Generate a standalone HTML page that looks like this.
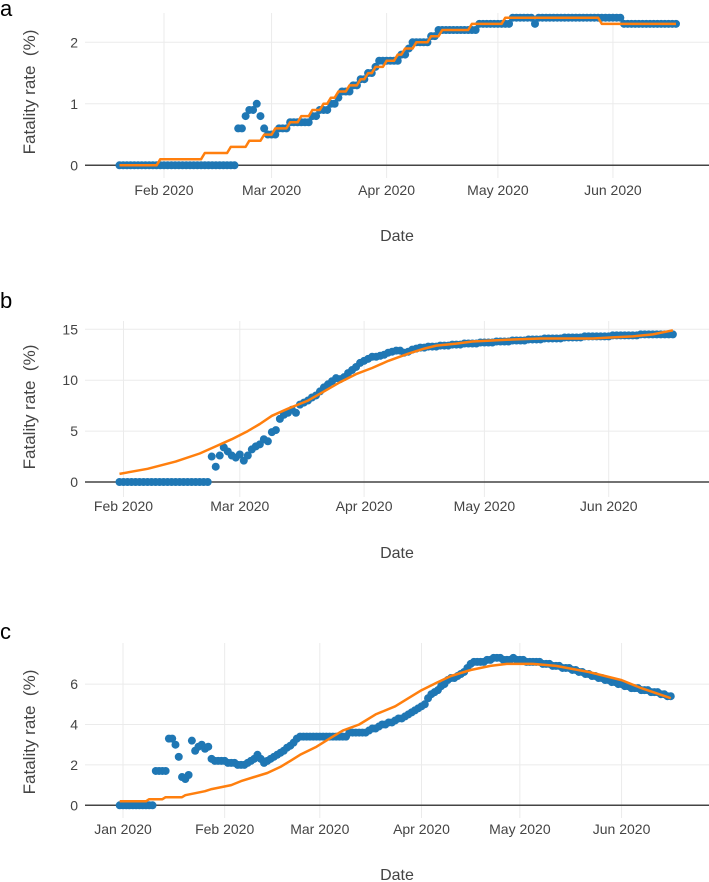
<!DOCTYPE html>
<html><head><meta charset="utf-8">
<style>
html,body{margin:0;padding:0;background:#fff;}
svg{display:block;font-family:"Liberation Sans","DejaVu Sans",sans-serif;}
</style></head>
<body>
<svg id="chart" width="709" height="882" viewBox="0 0 709 882" xmlns="http://www.w3.org/2000/svg"></svg>
<script>
// ---------- Panel a data ----------
const aStart = [2020,0,20];
const aBlueVals   = [0,0.6,0.8,0.9,1.0,0.8,0.6,0.5,0.6,0.7,0.8,0.9,1.0,1.1,1.2,1.3,1.4,1.5,1.6,1.7,1.8,1.9,2.0,2.1,2.2,2.3,2.4,2.3,2.4,2.3];
const aBlueCounts = [32,2,1,2,1,1,1,3,3,6,2,3,2,1,3,2,2,2,1,6,2,1,5,2,11,9,6,1,23,15];
const aOrangeVals   = [0,0.1,0.2,0.3,0.4,0.5,0.6,0.7,0.8,0.9,1.0,1.1,1.2,1.3,1.4,1.5,1.6,1.7,1.8,1.9,2.0,2.1,2.2,2.3,2.4,2.3];
const aOrangeCounts = [11,12,7,5,4,3,4,3,3,3,2,2,3,3,2,2,3,3,2,3,4,3,8,9,26,21];
const aYTicks = [0,1,2];
const aXTicks = ["Feb 2020","Mar 2020","Apr 2020","May 2020","Jun 2020"];
const aXTickDates = [[2020,1,1],[2020,2,1],[2020,3,1],[2020,4,1],[2020,5,1]];

// ---------- Panel b data ----------
const bStart = [2020,0,31];
const bBlue = [0,0,0,0,0,0,0,0,0,0,0,0,0,0,0,0,0,0,0,0,0,0,0,
2.5,1.5,2.6,3.4,3.0,2.6,2.4,2.7,2.1,2.6,3.2,3.5,3.7,4.2,4.0,4.9,5.1,6.2,6.6,6.8,7.1,6.8,7.6,7.8,8.0,8.3,8.5,8.9,9.3,9.6,9.9,10.2,10.1,10.3,10.7,11.0,11.3,11.7,11.9,12.1,12.3,12.3,12.4,12.5,12.7,12.8,12.9,12.9,12.7,12.8,13.0,13.1,
13.2,13.2,13.3,13.3,13.3,13.4,13.4,13.4,13.5,13.5,13.5,13.6,13.6,13.6,13.6,13.7,13.7,13.7,13.7,13.8,13.8,13.8,13.8,13.9,13.9,13.9,13.9,14.0,14.0,14.0,14.0,14.1,14.1,14.1,14.1,14.1,14.2,14.2,14.2,14.2,14.2,14.3,14.3,14.3,14.3,14.3,14.3,14.3,14.4,14.4,14.4,14.4,14.4,14.4,14.4,14.5,14.5,14.5,14.5,14.5,14.5,14.5,14.5,14.5];
const bOrangeDays = [0,7,14,20,24,28,32,35,38,42,47,51,55,59,63,67,72,76,79,84,88,93,98,105,112,118,123,128,133,138];
const bOrangeVals = [0.8,1.3,2.0,2.8,3.5,4.2,5.0,5.7,6.5,7.2,8.0,8.9,9.8,10.6,11.2,11.9,12.6,13.1,13.4,13.6,13.8,13.9,14.0,14.1,14.1,14.1,14.2,14.3,14.5,14.9];
const bYTicks = [0,5,10,15];
const bXTicks = ["Feb 2020","Mar 2020","Apr 2020","May 2020","Jun 2020"];
const bXTickDates = [[2020,1,1],[2020,2,1],[2020,3,1],[2020,4,1],[2020,5,1]];

// ---------- Panel c data ----------
const cStart = [2019,11,31];
const cBlue = [0,0,0,0,0,0,0,0,0,0,0,
1.7,1.7,1.7,1.7,3.3,3.3,3.0,2.4,1.4,1.3,1.5,3.2,2.7,2.9,3.0,2.8,2.9,2.3,
2.2,2.2,2.2,2.2,2.1,2.1,2.1,2.0,2.0,2.0,2.1,2.2,2.3,2.5,2.3,2.1,2.2,
2.3,2.4,2.5,2.6,2.7,2.85,2.95,3.1,3.3,3.4,
3.4,3.4,3.4,3.4,3.4,3.4,3.4,3.4,3.4,3.4,3.4,3.4,3.4,3.4,
3.6,3.6,3.6,3.6,3.6,3.6,
3.7,3.8,3.8,3.9,4.0,4.0,4.1,4.1,4.2,4.3,4.3,4.4,4.5,4.6,4.7,4.8,4.9,5.0,5.3,5.5,5.6,5.7,5.9,6.0,
6.2,6.3,6.3,6.4,6.5,6.6,6.8,7.0,7.1,7.1,7.1,7.1,7.2,7.2,7.3,7.3,
7.3,7.2,7.2,7.2,7.3,7.2,7.2,7.2,7.1,7.1,7.1,7.1,7.1,7.0,7.0,7.0,6.9,6.9,6.9,6.8,
6.8,6.8,6.7,6.7,6.6,6.6,6.5,6.5,6.4,6.4,6.3,6.3,6.2,6.2,6.1,6.1,6.0,6.0,5.9,5.9,5.8,5.8,5.8,5.7,5.7,5.7,5.6,5.6,5.6,5.5,5.5,5.4,5.4];
const cOrangeDays = [0,8,9,13,14,19,20,23,26,28,31,34,37,41,45,49,52,55,60,64,68,73,78,84,88,92,97,101,107,113,118,126,133,143,153,159,168];
const cOrangeVals = [0.2,0.2,0.3,0.3,0.4,0.4,0.5,0.6,0.7,0.8,0.9,1.0,1.2,1.4,1.6,1.9,2.2,2.5,2.9,3.3,3.7,4.0,4.5,4.9,5.3,5.7,6.1,6.4,6.7,6.9,7.0,7.0,6.9,6.6,6.2,5.8,5.3];
const cYTicks = [0,2,4,6];
const cXTicks = ["Jan 2020","Feb 2020","Mar 2020","Apr 2020","May 2020","Jun 2020"];
const cXTickDates = [[2020,0,1],[2020,1,1],[2020,2,1],[2020,3,1],[2020,4,1],[2020,5,1]];

const NS = "http://www.w3.org/2000/svg";
const svg = document.getElementById("chart");
const DAY = 86400000;
function mk(tag, attrs, parent){
  const e = document.createElementNS(NS, tag);
  for (const k in attrs) e.setAttribute(k, attrs[k]);
  (parent||svg).appendChild(e);
  return e;
}
function expand(vals, counts){
  const out=[]; vals.forEach((v,i)=>{for(let j=0;j<counts[i];j++) out.push(v);}); return out;
}
function ms(d){return Date.UTC(d[0],d[1],d[2]);}

function panel(cfg){
  const g = mk("g",{});
  
  
  const x = t => cfg.x0px + (t - ms(cfg.x0date))/DAY*cfg.pxPerDay;
  const y = v => cfg.y0px - v*cfg.pxPerUnit;
  cfg.yTicks.forEach(v=>{
    if (v!==0){
      const l = mk("line",{x1:85,x2:709,y1:y(v),y2:y(v),stroke:"#ebebeb","stroke-width":1},g);
      
      
    }
    const t = mk("text",{x:78,y:y(v)+5,"text-anchor":"end","font-size":14,fill:"#444"},g);
    t.textContent = v;
    
    
  });
  cfg.xTickDates.forEach((d,i)=>{
    const px = x(ms(d));
    const l = mk("line",{x1:px,x2:px,y1:cfg.top,y2:cfg.bottom,stroke:"#ebebeb","stroke-width":1},g);
    
    
    const t = mk("text",{x:px,y:cfg.tickY,"text-anchor":"middle","font-size":14,fill:"#444"},g);
    t.textContent = cfg.xTicks[i];
    
    
  });
  const z = mk("line",{x1:85,x2:709,y1:y(0),y2:y(0),stroke:"#444","stroke-width":1.5},g);
  
  
  const start = ms(cfg.start);
  const pg = mk("g",{fill:"#1f77b4"},g);
  
  
  cfg.blue.forEach((v,i)=>{
    const c = mk("circle",{cx:x(start+i*DAY),cy:y(v),r:4},pg);
    
    
  });
  const pts = cfg.orangeDays.map((d,i)=>x(start+d*DAY).toFixed(1)+","+y(cfg.orangeVals[i]).toFixed(1)).join(" ");
  const pl = mk("polyline",{points:pts,fill:"none",stroke:"#ff7f0e","stroke-width":2.5,"stroke-linejoin":"round"},g);
  
  
  const xt = mk("text",{x:397,y:cfg.titleY,"text-anchor":"middle","font-size":16,fill:"#444"},g);
  xt.textContent = "Date";
  
  
  const yt = mk("text",{x:0,y:0,"text-anchor":"middle","font-size":17,fill:"#444",transform:`translate(35,${cfg.yTitleY}) rotate(-90)`},g);
  yt.textContent = "Fatality rate \u00a0(%)";
  
  
  const lt = mk("text",{x:0,y:cfg.letterY,"font-size":22,fill:"#000"},g);
  lt.textContent = cfg.letter;
  
  
}

panel({name:"panel-a",letter:"a",letterY:16,start:aStart,blue:expand(aBlueVals,aBlueCounts),
  orangeDays:expand(aOrangeVals,aOrangeCounts).map((v,i)=>i),orangeVals:expand(aOrangeVals,aOrangeCounts),
  yTicks:aYTicks,xTicks:aXTicks,xTickDates:aXTickDates,
  x0date:[2020,1,1],x0px:164,pxPerDay:3.71,y0px:165.3,pxPerUnit:61.5,top:13,bottom:178,tickY:195,titleY:241,yTitleY:92});
panel({name:"panel-b",letter:"b",letterY:308,start:bStart,blue:bBlue,orangeDays:bOrangeDays,orangeVals:bOrangeVals,
  yTicks:bYTicks,xTicks:bXTicks,xTickDates:bXTickDates,
  x0date:[2020,1,1],x0px:123.5,pxPerDay:4.01,y0px:482,pxPerUnit:10.18,top:321,bottom:497,tickY:511,titleY:558,yTitleY:407});
panel({name:"panel-c",letter:"c",letterY:639,start:cStart,blue:cBlue,orangeDays:cOrangeDays,orangeVals:cOrangeVals,
  yTicks:cYTicks,xTicks:cXTicks,xTickDates:cXTickDates,
  x0date:[2020,0,1],x0px:123,pxPerDay:3.28,y0px:805.3,pxPerUnit:20.2,top:643,bottom:818,tickY:834,titleY:880,yTitleY:732});
</script>
</body></html>
